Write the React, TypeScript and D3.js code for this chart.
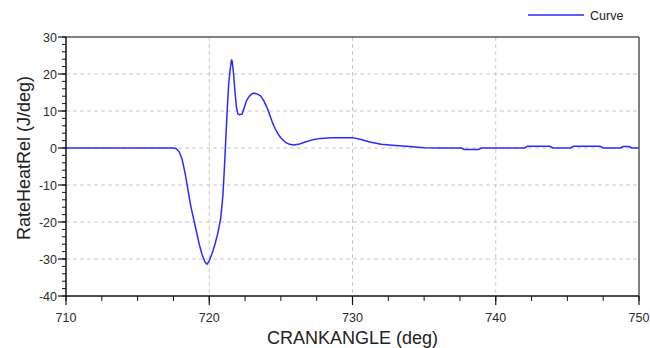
import React from "react";
import * as d3 from "d3";

const crankAngle = [
  710, 717.5, 717.7, 717.9, 718.1, 718.3, 718.5, 718.7, 718.9, 719.1, 719.3, 719.5, 719.7, 719.85,
  720.0, 720.2, 720.4, 720.6, 720.8, 720.95, 721.05, 721.15, 721.25, 721.35, 721.45, 721.55, 721.6,
  721.7, 721.8, 721.9, 722.0, 722.1, 722.3, 722.45, 722.6, 722.8, 723.0, 723.2, 723.4, 723.6, 723.8,
  724.0, 724.2, 724.4, 724.6, 724.8, 725.0, 725.3, 725.6, 725.9, 726.3, 726.7, 727.2, 727.8, 728.5,
  729.2, 730.0, 730.6, 731.2, 732.0, 733.0, 734.0, 735.0, 736.0, 737.6, 737.8, 738.8, 739.0, 742.0,
  742.2, 743.8, 744.0, 745.2, 745.4, 747.3, 747.5, 748.7, 748.9, 749.3, 749.5, 750,
];
const rateHeatRel = [
  0, 0, -0.2, -1.0, -3.0, -6.5, -11, -15.5, -19, -22.5, -26, -28.8, -30.8, -31.4,
  -30.5, -28.5, -26, -23, -19, -13, -6, 2, 10, 17, 21, 23.8, 23.5,
  20, 15, 11, 9.2, 9, 9.2, 11, 12.8, 14, 14.7, 14.8, 14.5, 14, 12.8,
  11.2, 9.2, 7, 5.2, 3.8, 2.7, 1.6, 1.0, 0.8, 1.1, 1.6, 2.2, 2.6, 2.8,
  2.8, 2.8, 2.3, 1.6, 1.0, 0.7, 0.4, 0.05, 0, 0, -0.4, -0.4, 0, 0,
  0.45, 0.45, 0, 0, 0.45, 0.45, 0, 0, 0.4, 0.4, 0, 0,
];
const xTicks = [710, 720, 730, 740, 750];
const yTicks = [30, 20, 10, 0, -10, -20, -30, -40];
const xMinorTicks = d3.range(710, 750.01, 2.5);
const yMinorTicks = d3.range(-40, 30.01, 2);
const legendLabel = "Curve";
const xTitle = "CRANKANGLE (deg)";
const yTitle = "RateHeatRel (J/deg)";

const W = 650, H = 348;
const L = 66, R = 639, T = 37, B = 296;
const FONT = "'Liberation Sans', Arial, sans-serif";
const BLUE = "#2b2bff";

export default function App() {
  const x = d3.scaleLinear().domain([710, 750]).range([L, R]);
  const y = d3.scaleLinear().domain([-40, 30]).range([B, T]);
  const pts: [number, number][] = crankAngle.map((c, i) => [c, rateHeatRel[i]]);
  const line = d3.line<[number, number]>().x((d) => x(d[0])).y((d) => y(d[1]));

  return (
    <svg width={W} height={H} style={{ position: "absolute", left: 0, top: 0, background: "#fff" }}>
      <rect x={0} y={0} width={W} height={H} fill="#fff" />
      {/* grid */}
      {yTicks.filter((t) => t > -40 && t < 30).map((t) => (
        <line key={"gy" + t} x1={L} x2={R} y1={y(t)} y2={y(t)} stroke="#c8c8c8" strokeDasharray="4,3" />
      ))}
      {xTicks.filter((t) => t > 710 && t < 750).map((t) => (
        <line key={"gx" + t} x1={x(t)} x2={x(t)} y1={T} y2={B} stroke="#c8c8c8" strokeDasharray="4,3" />
      ))}
      {/* curve */}
      <path d={line(pts) || ""} fill="none" stroke={BLUE} strokeWidth={1.5} strokeLinejoin="round" />
      {/* frame */}
      <line x1={L} x2={R} y1={T} y2={T} stroke="#555" strokeWidth={1.5} />
      <line x1={R} x2={R} y1={T} y2={B} stroke="#555" strokeWidth={1.5} />
      <line x1={L} x2={L} y1={T} y2={B + 0.75} stroke="#111" strokeWidth={1.5} />
      <line x1={L - 0.75} x2={R} y1={B} y2={B} stroke="#111" strokeWidth={1.5} />
      {/* y ticks */}
      {yMinorTicks.map((t) => (
        <line key={"ym" + t} x1={L - 4} x2={L} y1={y(t)} y2={y(t)} stroke="#111" strokeWidth={1} />
      ))}
      {yTicks.map((t) => (
        <g key={"yt" + t}>
          <line x1={L - 8} x2={L} y1={y(t)} y2={y(t)} stroke="#111" strokeWidth={1.2} />
          <text x={L - 9} y={y(t) + 4.5} textAnchor="end" fontFamily={FONT} fontSize={12.5} fill="#2a2a2a">
            {t}
          </text>
        </g>
      ))}
      {/* x ticks */}
      {xMinorTicks.map((t) => (
        <line key={"xm" + t} x1={x(t)} x2={x(t)} y1={B} y2={B + 5} stroke="#111" strokeWidth={1} />
      ))}
      {xTicks.map((t) => (
        <g key={"xt" + t}>
          <line x1={x(t)} x2={x(t)} y1={B} y2={B + 9} stroke="#111" strokeWidth={1.2} />
          <text x={x(t)} y={322} textAnchor="middle" fontFamily={FONT} fontSize={12.5} fill="#2a2a2a">
            {t}
          </text>
        </g>
      ))}
      {/* axis titles */}
      <text x={(L + R) / 2} y={344} textAnchor="middle" fontFamily={FONT} fontSize={18} fill="#222">
        {xTitle}
      </text>
      <text
        transform={`translate(30, 158) rotate(-90)`}
        textAnchor="middle"
        fontFamily={FONT}
        fontSize={18}
        fill="#222"
      >
        {yTitle}
      </text>
      {/* legend */}
      <line x1={528} x2={584} y1={15} y2={15} stroke={BLUE} strokeWidth={1.5} />
      <text x={590} y={19.5} fontFamily={FONT} fontSize={12.5} fill="#222">
        {legendLabel}
      </text>
    </svg>
  );
}
